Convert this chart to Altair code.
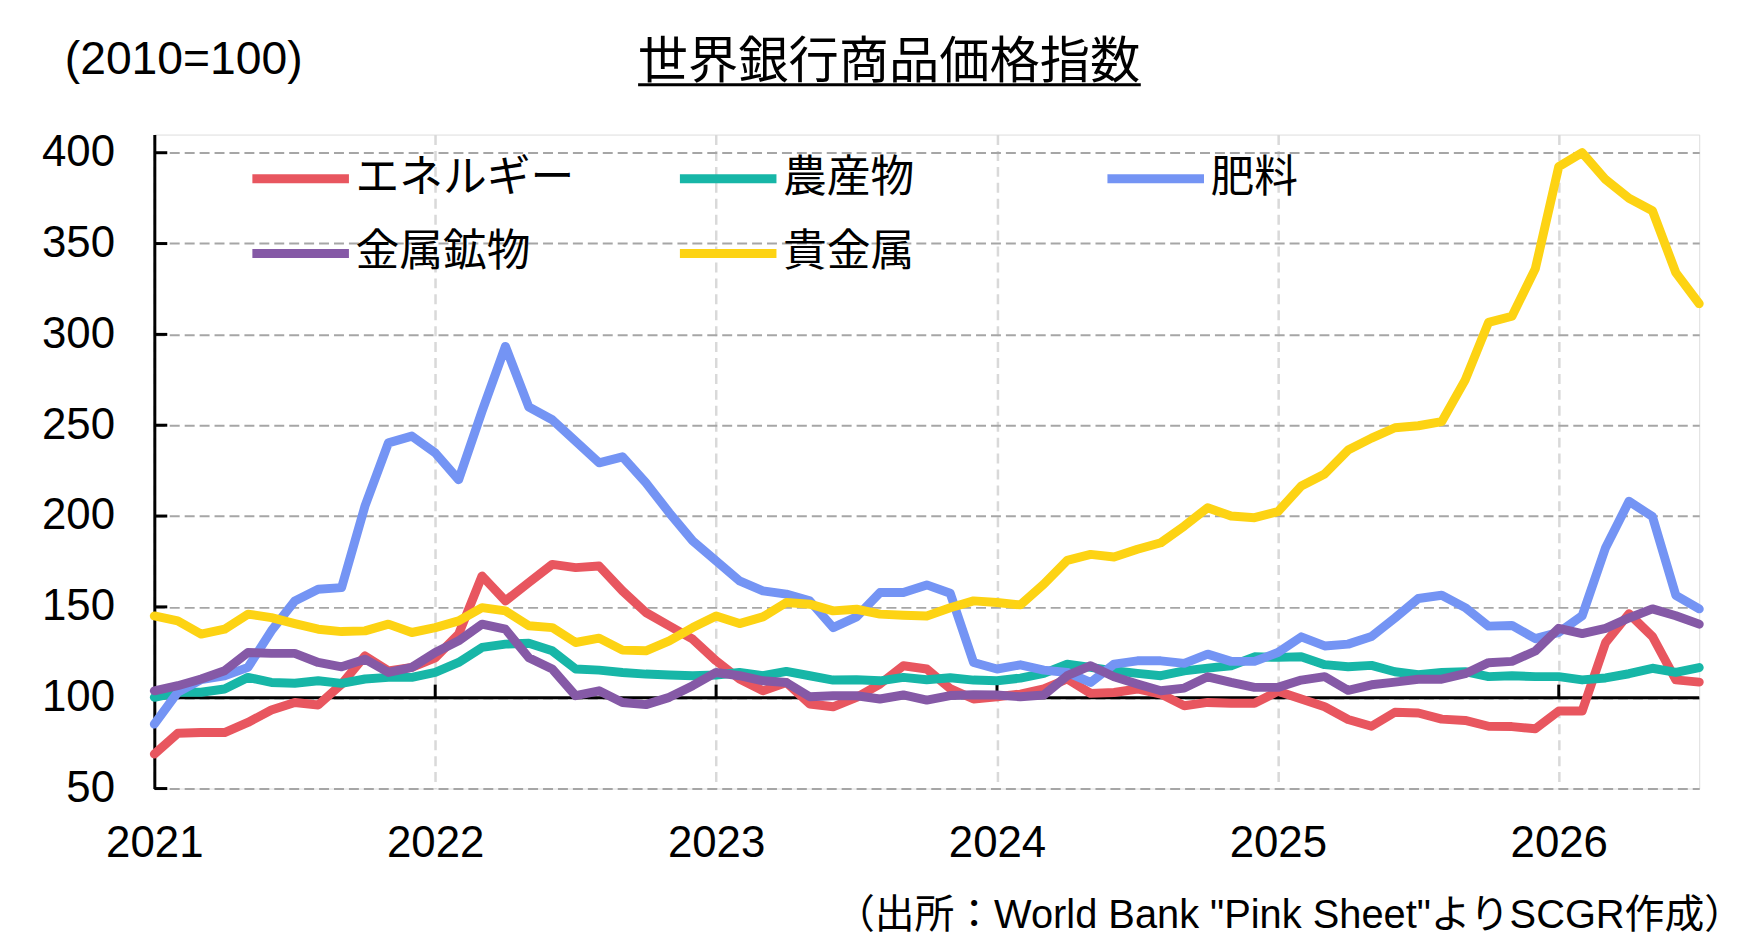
import json
import altair as alt
import pandas as pd

# ---- data (monthly, Jan 2021 = index 0 ... Jul 2026 = index 66) ----
months = list(range(67))
energy = [69, 80.4, 80.8, 80.8, 86.4, 93.2, 97.4, 96, 107.5, 123, 114.8, 116.7,
          122, 135, 167, 153.3, 163.4, 173.4, 171.6, 172.5, 158.8, 146.9, 139.6, 132.2,
          120.3, 110.3, 103.8, 108.4, 96.5, 95, 100.2, 107.5, 117.6, 115.8, 105, 99.3,
          100.5, 102, 104.8, 110.3, 102.4, 102.9, 104.8, 102, 95.6, 97.4, 96.9, 96.9,
          103.5, 99.3, 95, 88, 84.3, 92, 91.6, 88.2, 87.5, 84.3, 84.1, 82.9,
          92.7, 92.7, 130.3, 146.2, 133.7, 109.8, 108.6]
agri = [100.2, 103, 103, 104.8, 111.2, 108.4, 108, 109.3, 107.9, 110.3, 111.2, 111.2,
        113.9, 119.4, 127.7, 129.5, 130, 125.8, 115.8, 115.2, 113.9, 113, 112.5, 112.1,
        112.5, 113.9, 112.1, 114.5, 112.1, 109.7, 109.9, 109.3, 111.2, 109.9, 111, 109.7,
        109.3, 110.8, 113.4, 118.5, 116.7, 114.8, 113.4, 112.1, 114.8, 116.3, 117.6, 122.5,
        122.2, 122.5, 118.2, 117, 117.8, 114.3, 112.7, 113.9, 114.3, 111.6, 112.1, 111.6,
        111.6, 109.8, 110.9, 113.2, 116.2, 113.9, 116.6]
fert = [85.5, 103, 110, 112, 116.7, 136.8, 153.3, 159.7, 160.6, 205.5, 240.3, 244,
        234.8, 220, 257.7, 293.4, 260, 253, 241.2, 229.3, 232.6, 218.3, 201.8, 186.3,
        175.3, 164.3, 158.8, 157, 153.3, 138.6, 144.5, 157.9, 157.9, 162.1, 157.5, 119.4,
        115.8, 118.1, 115.2, 113.9, 108.4, 118.5, 120.3, 120.3, 118.9, 124, 120, 120,
        124.9, 133.5, 128.5, 129.5, 133.7, 143.9, 154.6, 156.4, 149.6, 139.4, 139.8, 132.5,
        136, 145.1, 182.6, 208.1, 199.7, 156.4, 148.9]
metals = [103.8, 106.6, 110.3, 114.8, 124.9, 124.4, 124.4, 119.4, 117, 121.2, 113.9, 116.7,
          124.9, 131.3, 140.5, 137.7, 122, 115.8, 101.1, 103.8, 97.4, 96.2, 100.2, 106.6,
          113.9, 112.1, 109.3, 108.4, 100.5, 101.1, 101.1, 99.3, 101.5, 98.7, 101.2, 101.6,
          101.5, 100.5, 101.5, 112.1, 117.6, 111.5, 107.5, 103.8, 105.3, 111.5, 108.4, 105.7,
          105.7, 109.7, 111.6, 104.1, 107.1, 108.6, 110.2, 110.2, 113.2, 119.3, 120, 125.7,
          138.2, 135.3, 138.2, 143.9, 148.9, 145.1, 140.5]
precious = [145, 142.3, 135, 137.7, 146, 144.1, 140.8, 137.7, 136.4, 136.8, 140.5, 135.9,
            138.6, 142.3, 149.6, 147.8, 139.6, 138.6, 130.4, 132.8, 126.2, 125.8, 131.3, 138.6,
            145, 140.8, 144.5, 152.4, 151.5, 147.8, 148.7, 146, 145.4, 145, 149.5, 153.3,
            152.4, 151.1, 162.5, 175.6, 178.9, 177.5, 181.7, 185.3, 194.5, 204.6, 200, 199.1,
            202.4, 216.5, 223.2, 236.3, 242.9, 248.6, 249.7, 252, 274.8, 306.6, 310, 336.2,
            392.4, 400, 385.2, 374.9, 368.1, 334, 316.9]

series_names = ["エネルギー", "農産物", "肥料", "金属鉱物", "貴金属"]
series_colors = ["#e8565f", "#17b6a7", "#7494f4", "#8559a6", "#fdd313"]
year_ticks = [0, 12, 24, 36, 48, 60]
year_labels = ["2021", "2022", "2023", "2024", "2025", "2026"]
y_ticks = [50, 100, 150, 200, 250, 300, 350, 400]

title_text = "世界銀行商品価格指数"
unit_text = "(2010=100)"
source_text = "（出所：World Bank \"Pink Sheet\"よりSCGR作成）"

# ---- tables ----
rows = []
for name, vals in zip(series_names, [energy, agri, fert, metals, precious]):
    for m, v in zip(months, vals):
        rows.append({"m": m, "v": v, "s": name})
df = pd.DataFrame(rows)

LATIN = "Liberation Sans"
CJK = "Noto Sans CJK JP"

x_scale = alt.Scale(domain=[0, 66], nice=False, zero=False)
y_scale = alt.Scale(domain=[50, 410], nice=False, zero=False)

label_map = {str(t): l for t, l in zip(year_ticks, year_labels)}
x_axis = alt.Axis(values=year_ticks, labelExpr=f"{json.dumps(label_map)}[''+datum.value]",
                  title=None, grid=True, gridColor="#d9d9d9", gridDash=[10, 6], gridWidth=2.5,
                  domain=False, ticks=False, tickSize=0, labelPadding=33.5, labelFlush=False,
                  labelFont=LATIN, labelFontSize=44, labelColor="black")
y_axis = alt.Axis(values=y_ticks, title=None, grid=True, gridColor="#a6a6a6",
                  gridDash=[10, 5], gridWidth=2, domain=True, domainColor="black",
                  domainWidth=3, ticks=False, tickSize=0, labelPadding=40,
                  labelFont=LATIN, labelFontSize=44, labelColor="black")

color = alt.Color("s:N", scale=alt.Scale(domain=series_names, range=series_colors),
                  legend=alt.Legend(orient="none", legendX=94, legendY=-8.5, columns=3,
                                    direction="horizontal",
                                    gridAlign="all", symbolType="stroke", symbolSize=9409,
                                    symbolStrokeWidth=9, labelFont=CJK, labelFontSize=44,
                                    labelColor="black", labelOffset=2, labelLimit=600,
                                    columnPadding=87.5, rowPadding=-28, title=None,
                                    padding=0, symbolOpacity=1))

base = alt.Chart(df).mark_line(strokeWidth=9, strokeJoin="round", strokeCap="round").encode(
    x=alt.X("m:Q", scale=x_scale, axis=x_axis),
    y=alt.Y("v:Q", scale=y_scale, axis=y_axis),
    color=color,
)
lines = [base.transform_filter(alt.datum.s == n) for n in series_names]

hundred = alt.Chart(pd.DataFrame({"v": [100]})).mark_rule(color="black", strokeWidth=3).encode(
    y=alt.Y("v:Q", scale=y_scale, axis=y_axis)
)
xt = alt.Chart(pd.DataFrame({"m": year_ticks[1:]})).mark_rule(color="black", strokeWidth=3).encode(
    x=alt.X("m:Q", scale=x_scale, axis=x_axis),
    y=alt.Y(datum=100, scale=y_scale, axis=y_axis),
    y2=alt.Y2(datum=107.2),
)
yt = alt.Chart(pd.DataFrame({"v": y_ticks})).mark_rule(color="black", strokeWidth=3).encode(
    y=alt.Y("v:Q", scale=y_scale, axis=y_axis),
    x=alt.value(0), x2=alt.value(13),
)

title = alt.Chart(pd.DataFrame({"t": [title_text]})).mark_text(
    font=CJK, fontSize=50.5, color="black", align="center", baseline="alphabetic"
).encode(x=alt.value(738), y=alt.value(-57), text="t:N")
underline = alt.Chart(pd.DataFrame({"t": [title_text]})).mark_rule(color="black", strokeWidth=3).encode(
    x=alt.value(486), x2=alt.value(991), y=alt.value(-50)
)
unit = alt.Chart(pd.DataFrame({"t": [unit_text]})).mark_text(
    font=LATIN, fontSize=46.5, color="black", align="left", baseline="alphabetic"
).encode(x=alt.value(-90), y=alt.value(-61), text="t:N")
source = alt.Chart(pd.DataFrame({"t": [source_text]})).mark_text(
    font=f"{LATIN}, {CJK}", fontSize=40, color="black", align="right", baseline="alphabetic"
).encode(x=alt.value(1597), y=alt.value(797), text="t:N")

chart = alt.layer(hundred, xt, yt, *lines, title, underline, unit, source).properties(
    width=1552, height=657,
    padding={"left": 147, "top": 125, "right": 47, "bottom": 147},
    autosize=alt.AutoSizeParams(type="none"),
).configure_view(strokeWidth=0).configure(background="white")

chart.save("out.html", embed_options={"renderer": "svg", "actions": False})
